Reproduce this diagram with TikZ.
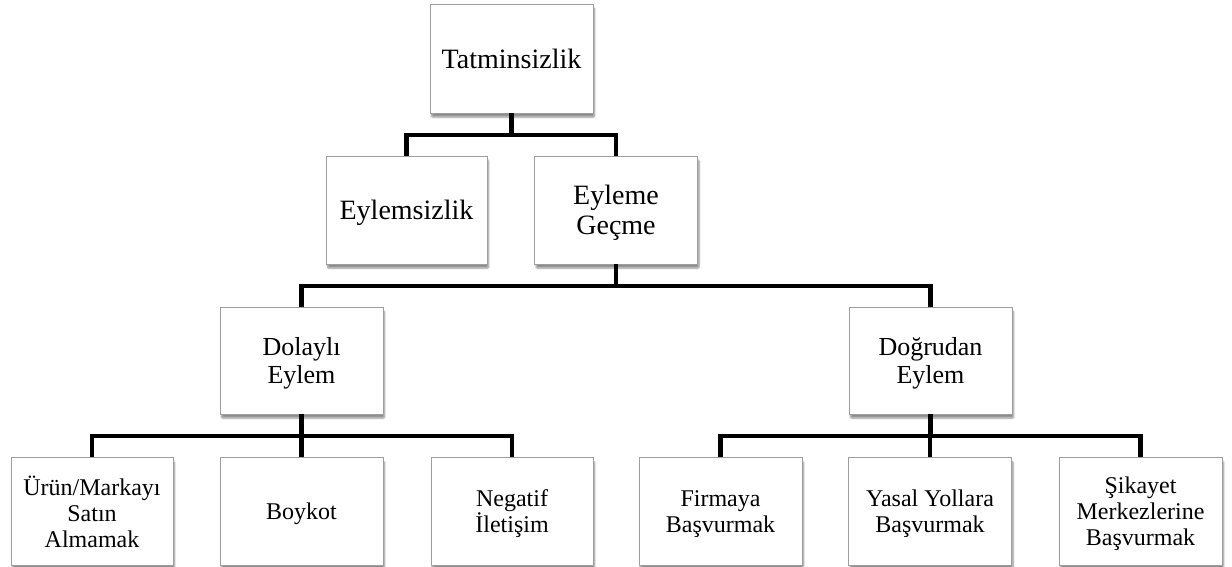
\documentclass[tikz,border=0pt]{standalone}
\usepackage{fontspec}
\setmainfont{Liberation Serif}
\usetikzlibrary{shadows.blur}
\tikzset{
  box/.style={draw=black!38, line width=0.9pt, fill=white, minimum width=163pt,
    minimum height=108pt, inner sep=2pt, align=center, text=black, text depth=0pt,
    blur shadow={shadow xshift=1.5pt, shadow yshift=-4pt, shadow blur steps=6,
      shadow blur extra rounding=1pt, shadow opacity=45}},
  conn/.style={line width=4.6pt, black, line join=miter, line cap=butt},
  topfont/.style={font=\fontsize{28}{30}\selectfont},
  midfont/.style={font=\fontsize{26}{28}\selectfont},
  lowfont/.style={font=\fontsize{24}{26}\selectfont},
}
\begin{document}
\begin{tikzpicture}[x=1pt,y=-1pt]
\useasboundingbox (0,0) rectangle (1232,566);

% bus levels
\coordinate (bus1) at (0,135);
\coordinate (bus2) at (0,286);
\coordinate (bus3) at (0,436);

% top level
\node[box, topfont, minimum height=109pt] (t) at (511.5,58.5) {Tatminsizlik};

% second level
\node[box, topfont, minimum width=161pt] (e1) at (406.5,210) {Eylemsizlik};
\node[box, topfont] (e2) at (616,210) {Eyleme\\Geçme};

% third level
\node[box, midfont, minimum height=107pt] (d1) at (301.5,360.5) {Dolaylı\\Eylem};
\node[box, midfont, minimum height=107pt] (d2) at (930.5,360.5) {Doğrudan\\Eylem};

% bottom level
\node[box, lowfont, minimum width=162pt] (b1) at (92,511.5) {Ürün/Markayı\\Satın\\Almamak};
\node[box, lowfont] (b2) at (301.5,511.5) {Boykot};
\node[box, lowfont, minimum width=162pt] (b3) at (512,511.5) {Negatif\\İletişim};
\node[box, lowfont] (b4) at (720.5,511.5) {Firmaya\\Başvurmak};
\node[box, lowfont] (b5) at (930,511.5) {Yasal Yollara\\Başvurmak};
\node[box, lowfont] (b6) at (1140.5,511.5) {Şikayet\\Merkezlerine\\Başvurmak};

% connectors
\draw[conn] (t.south) -- (t.south |- bus1);
\draw[conn] (e1.north) |- (bus1 -| t.south) -| (e2.north);

\draw[conn] (e2.south) -- (e2.south |- bus2);
\draw[conn] (d1.north) |- (bus2 -| e2.south) -| (d2.north);

\draw[conn] (d1.south) -- (d1.south |- bus3);
\draw[conn] (b1.north) |- (bus3 -| d1.south) -| (b3.north);
\draw[conn] (b2.north) -- (b2.north |- bus3);

\draw[conn] (d2.south) -- (d2.south |- bus3);
\draw[conn] (b4.north) |- (bus3 -| d2.south) -| (b6.north);
\draw[conn] (b5.north) -- (b5.north |- bus3);
\end{tikzpicture}
\end{document}
